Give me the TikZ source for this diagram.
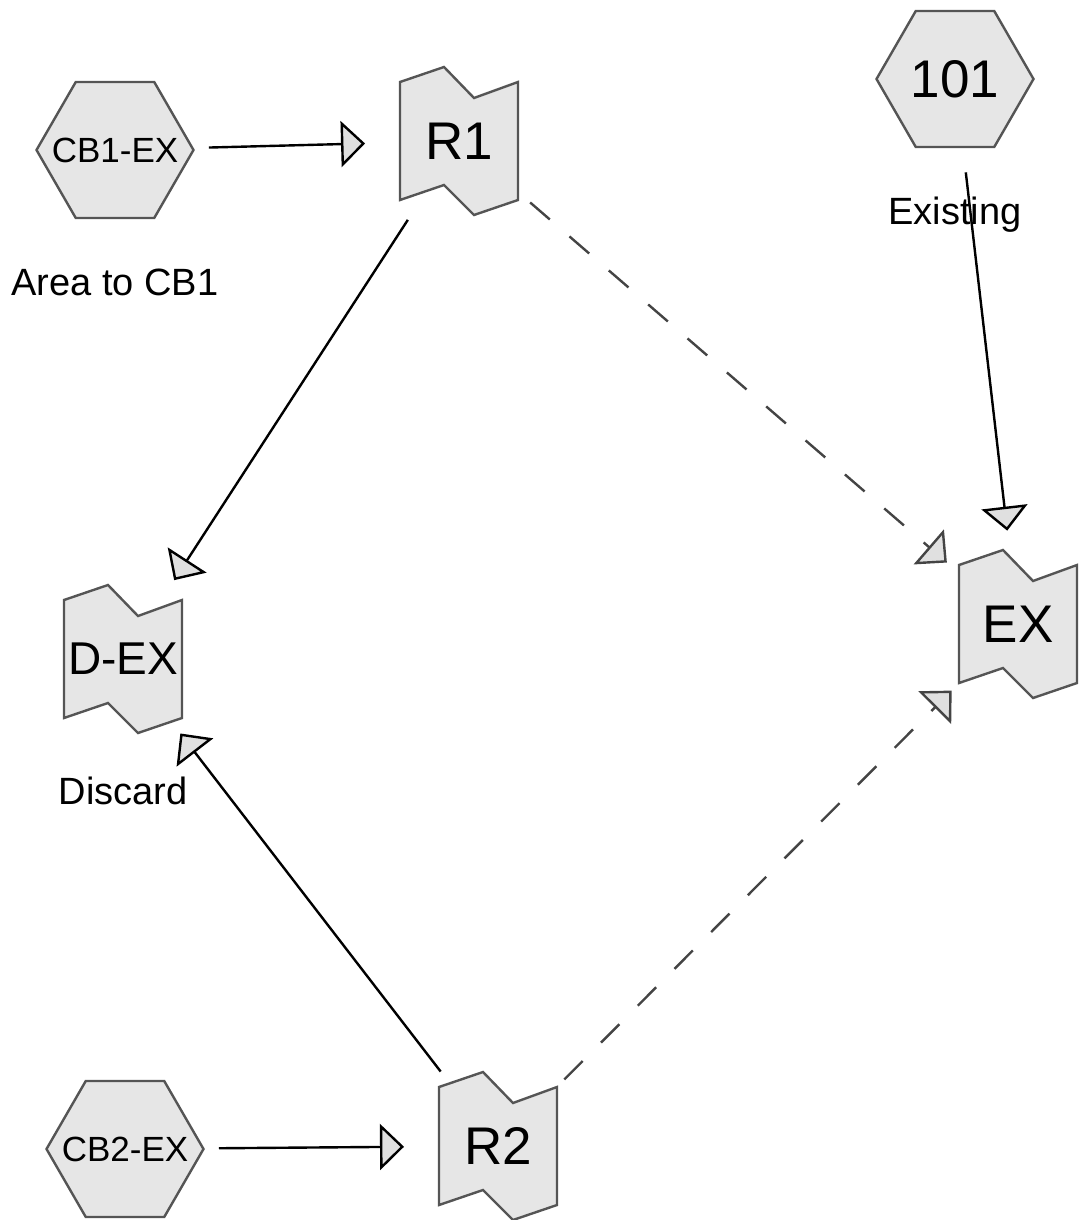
\documentclass[tikz,border=0pt]{standalone}
\usepackage{fontspec}
\setmainfont{Liberation Sans}
\usetikzlibrary{arrows.meta,shapes.geometric,calc}

\definecolor{boxfill}{HTML}{E6E6E6}
\definecolor{boxline}{HTML}{555555}
\definecolor{tipfill}{HTML}{E0E0E0}
\definecolor{dashline}{HTML}{444444}

\begin{document}
\begin{tikzpicture}[x=1pt, y=-1pt,
  hexa/.style={regular polygon, regular polygon sides=6, minimum size=157pt,
    inner sep=0pt, outer sep=0pt, fill=boxfill, draw=boxline, line width=2.4pt},
  flagtext/.style={rectangle, minimum width=118pt, minimum height=118pt,
    inner sep=0pt, outer sep=0pt},
  note/.style={anchor=base, font=\fontsize{38}{44}\selectfont},
  pics/flag/.style={code={
    \draw[fill=boxfill, draw=boxline, line width=2.4pt, line join=miter]
      (-59,-59) -- ++(44,-15) -- ++(30,31) -- ++(44,-16) -- ++(0,118)
      -- ++(-44,15) -- ++(-30,-30) -- ++(-44,15) -- cycle;
  }},
  link/.style={line width=2.4pt, shorten <=94pt, shorten >=94pt,
    -{Triangle[length=24pt, width=46pt, fill=tipfill]}},
  maybe/.style={link, draw=dashline, dash pattern=on 26pt off 26pt}]
  % рамка
  \useasboundingbox (0,0) rectangle (1081,1220);

  % шестиугольники
  \node[hexa, font=\fontsize{35}{40}\selectfont] (CB1) at (115,150) {\makebox[0pt]{CB1-EX}};
  \node[hexa, font=\fontsize{53}{60}\selectfont] (H101) at (955,79) {\makebox[0pt]{101}};
  \node[hexa, font=\fontsize{35}{40}\selectfont] (CB2) at (125,1149) {\makebox[0pt]{CB2-EX}};

  % флажки
  \pic at (459,141) {flag};
  \node[flagtext, font=\fontsize{53}{60}\selectfont] (R1) at (459,141) {R1};
  \pic at (498,1146) {flag};
  \node[flagtext, font=\fontsize{53}{60}\selectfont] (R2) at (498,1146) {R2};
  \pic at (123,659) {flag};
  \node[flagtext, font=\fontsize{46}{52}\selectfont] (DEX) at (123,659) {D-EX};
  \pic at (1018,624) {flag};
  \node[flagtext, font=\fontsize{53}{60}\selectfont] (EX) at (1018,624) {EX};

  % подписи
  \node[note] (areanote) at ($(CB1)+(0,145)$) {Area to CB1};
  \node[note] (discnote) at ($(DEX)+(0,145)$) {Discard};
  \node[note] (existnote) at ($(H101)+(0,145)$) {Existing};

  % связи
  \draw[link] (CB1.center) -- (R1.center);
  \draw[link] (CB2.center) -- (R2.center);
  \draw[link] (R1.center) -- (DEX.center);
  \draw[link] (R2.center) -- (DEX.center);
  \draw[link] (H101.center) -- (EX.center);
  \draw[maybe] (R1.center) -- (EX.center);
  \draw[maybe] (R2.center) -- (EX.center);
\end{tikzpicture}
\end{document}
